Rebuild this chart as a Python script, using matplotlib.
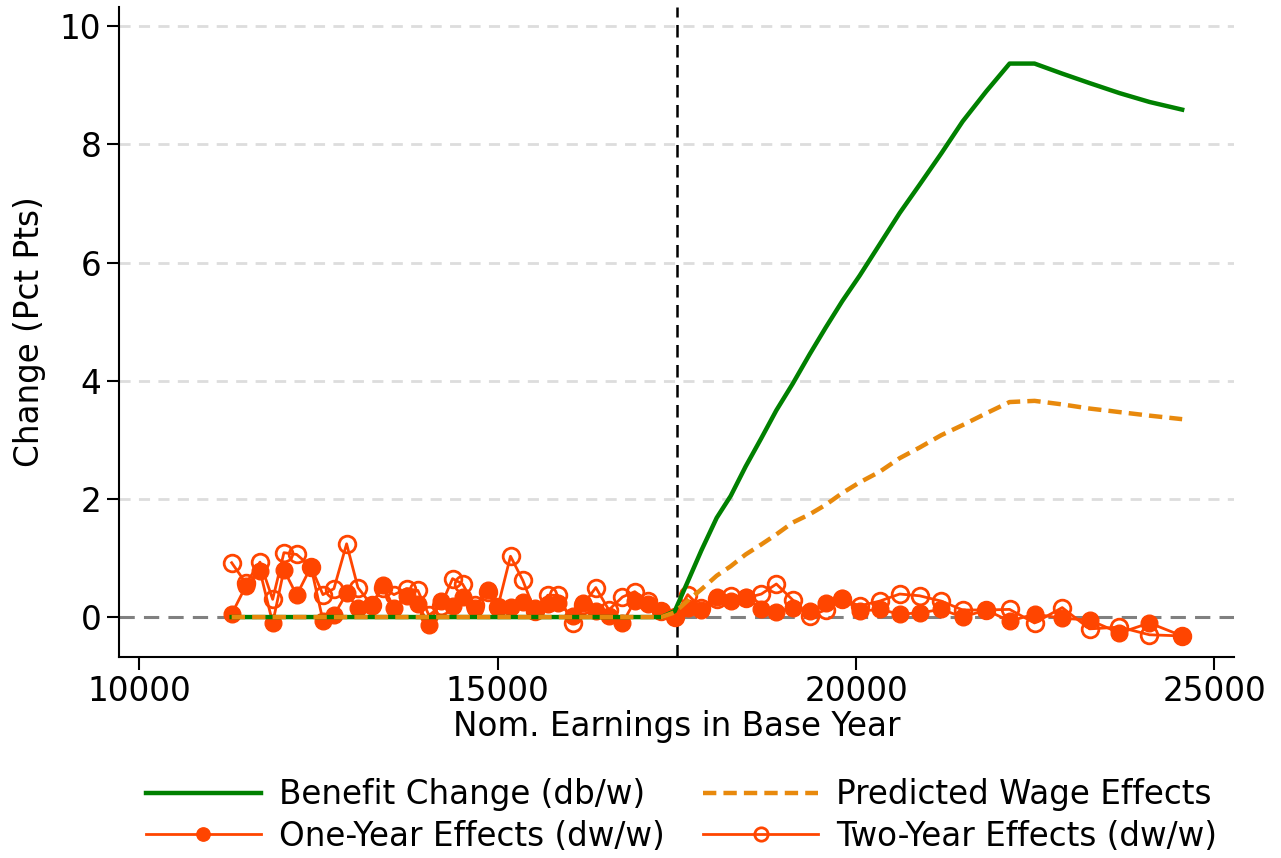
import numpy as np
import matplotlib
matplotlib.use("Agg")
import matplotlib.pyplot as plt

# nominal earnings in base year (bin centers)
earn = [11292, 11492, 11687, 11864, 12021, 12198, 12398, 12565, 12718, 12895,
        13053, 13244, 13397, 13555, 13732, 13889, 14043, 14206, 14373, 14512,
        14684, 14861, 15004, 15181, 15353, 15520, 15702, 15841, 16046, 16189,
        16371, 16552, 16743, 16914, 17096, 17287, 17472, 17653, 17844, 18057,
        18252, 18461, 18680, 18889, 19117, 19354, 19577, 19809, 20051, 20330,
        20609, 20887, 21190, 21487, 21817, 22142, 22490, 22876, 23257, 23675,
        24093, 24549]

one_year = [0.05, 0.53, 0.78, -0.10, 0.80, 0.37, 0.85, -0.06, 0.03, 0.40,
            0.15, 0.19, 0.54, 0.16, 0.36, 0.22, -0.13, 0.28, 0.18, 0.34,
            0.15, 0.46, 0.15, 0.17, 0.26, 0.15, 0.22, 0.24, 0.02, 0.24,
            0.10, 0.02, -0.10, 0.27, 0.22, 0.10, 0.00, 0.15, 0.12, 0.34,
            0.27, 0.34, 0.13, 0.09, 0.16, 0.10, 0.24, 0.33, 0.10, 0.13,
            0.05, 0.07, 0.13, 0.00, 0.12, -0.07, 0.05, -0.02, -0.05, -0.27,
            -0.10, -0.32]

two_year = [0.92, 0.57, 0.93, 0.30, 1.09, 1.06, 0.85, 0.38, 0.48, 1.24,
            0.50, 0.20, 0.50, 0.38, 0.48, 0.45, 0.03, 0.18, 0.65, 0.56,
            0.20, 0.42, 0.17, 1.03, 0.62, 0.10, 0.37, 0.37, -0.10, 0.20,
            0.50, 0.12, 0.34, 0.43, 0.27, 0.10, 0.00, 0.38, 0.15, 0.30,
            0.36, 0.32, 0.39, 0.56, 0.29, 0.02, 0.12, 0.30, 0.19, 0.27,
            0.39, 0.36, 0.27, 0.12, 0.12, 0.13, -0.10, 0.16, -0.20, -0.17,
            -0.30, -0.32]

benefit = [0]*36 + [0.10, 0.60, 1.13, 1.68, 2.05, 2.55, 3.03, 3.50, 3.95, 4.45,
                    4.90, 5.35, 5.78, 6.31, 6.84, 7.32, 7.85, 8.39, 8.90, 9.37,
                    9.37, 9.20, 9.04, 8.87, 8.72, 8.59]

predicted = [0]*36 + [0.08, 0.28, 0.47, 0.70, 0.86, 1.06, 1.23, 1.40, 1.60, 1.74,
                      1.90, 2.10, 2.28, 2.46, 2.69, 2.87, 3.08, 3.25, 3.45, 3.64,
                      3.66, 3.60, 3.53, 3.47, 3.41, 3.35]

kink = 17500

plt.rcParams['font.family'] = ['DejaVu Sans']
plt.rcParams['font.size'] = 23.5

fig = plt.figure(figsize=(12.81, 8.58), dpi=100)
ax = fig.add_axes([0.0927, 0.234, 0.871, 0.758])

for y in [2, 4, 6, 8, 10]:
    ax.axhline(y, color='#dddddd', lw=2, ls=(0, (4, 3)), zorder=0)
ax.axhline(0, color='gray', lw=2.2, ls=(0, (5, 3)), zorder=1)
ax.axvline(kink, color='black', lw=1.8, ls=(0, (5, 3)), zorder=1)

l3, = ax.plot(earn, one_year, color='orangered', lw=2, marker='o', ms=12,
              label='One-Year Effects (dw/w)', zorder=3)
l4, = ax.plot(earn, two_year, color='orangered', lw=2, marker='o', ms=12,
              mfc='none', mew=2, label='Two-Year Effects (dw/w)', zorder=3)
l1, = ax.plot(earn, benefit, color='green', lw=3.2, label='Benefit Change (db/w)', zorder=4)
l2, = ax.plot(earn, predicted, color='#e8890c', lw=3.2, ls=(0, (3, 1.6)),
              label='Predicted Wage Effects', zorder=5)

ax.set_xlim(9717, 25279)
ax.set_ylim(-0.68, 10.33)
ax.set_xticks([10000, 15000, 20000, 25000])
ax.set_yticks([0, 2, 4, 6, 8, 10])
ax.spines['top'].set_visible(False)
ax.spines['right'].set_visible(False)
ax.tick_params(direction='out', length=9, width=1.5)
for s in ['left', 'bottom']:
    ax.spines[s].set_linewidth(1.5)
ax.set_xlabel('Nom. Earnings in Base Year', labelpad=2)
ax.set_ylabel('Change (Pct Pts)', labelpad=10)

fig.legend([l1, l3, l2, l4], [h.get_label() for h in [l1, l3, l2, l4]],
           loc='center', bbox_to_anchor=(0.532, 0.0495), ncol=2, frameon=False,
           handlelength=3.5, handletextpad=0.55, columnspacing=1.2,
           labelspacing=0.26, markerscale=0.8)

fig.savefig('out.png', dpi=100)
